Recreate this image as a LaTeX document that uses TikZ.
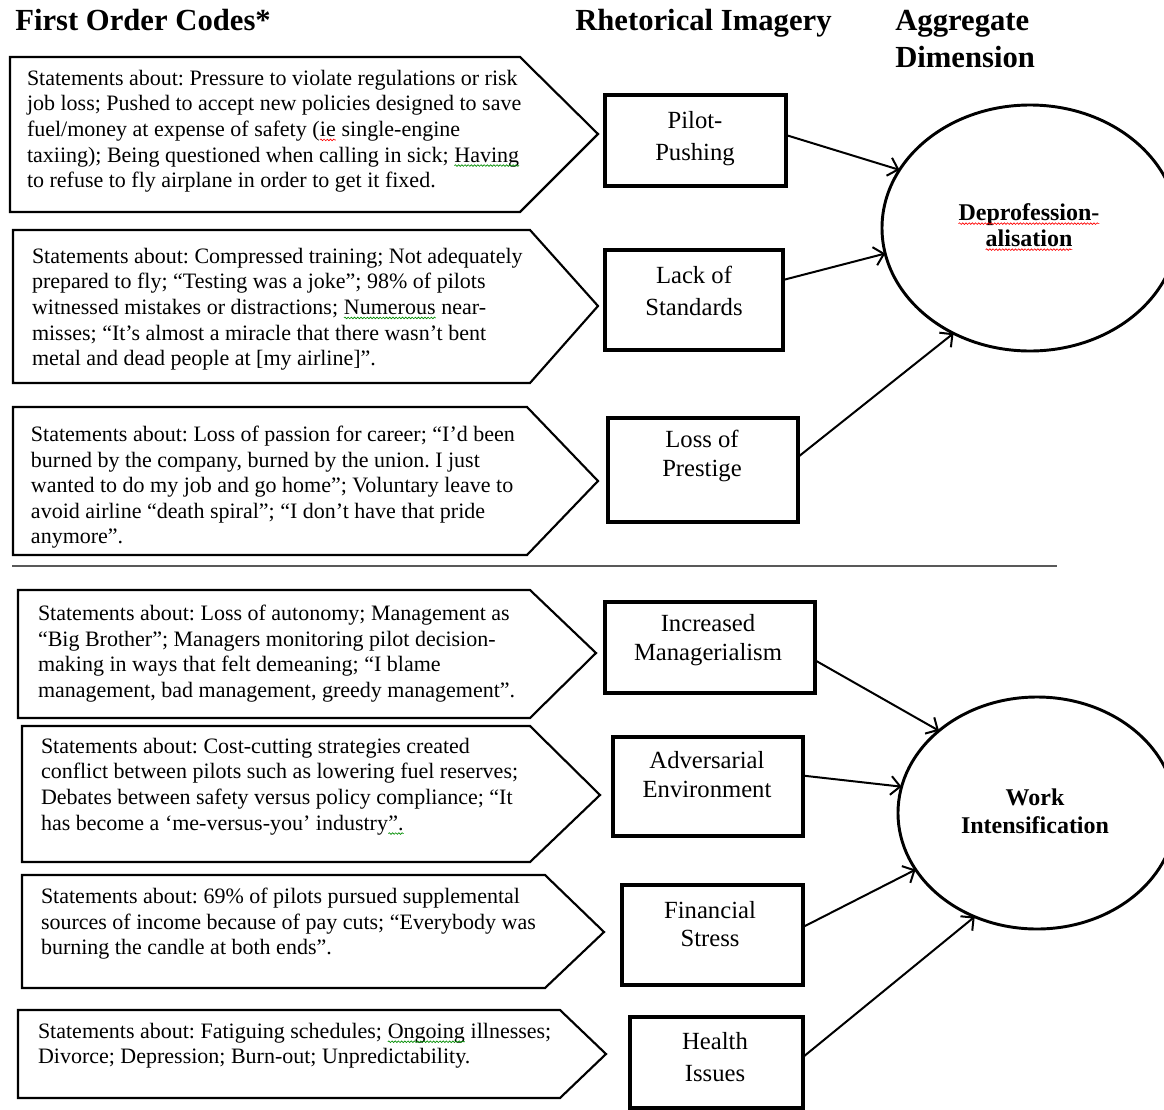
\documentclass[tikz,border=0pt]{standalone}
\usepackage{fontspec}
\setmainfont{Liberation Serif}
\usetikzlibrary{arrows.meta,shapes.geometric,calc,decorations.pathmorphing}
\frenchspacing
\newcommand\wavyul[2]{\tikz[baseline=(w.base)]{\node[shape=rectangle, draw=none, inner sep=0pt, outer sep=0pt, minimum width=0pt, minimum height=0pt, anchor=center] (w) {#2};
  \draw[#1, line width=0.5pt, decorate, decoration={snake,amplitude=0.6pt,segment length=2.4pt}] ([yshift=-2.6pt]w.base west) -- ([yshift=-2.6pt]w.base east);}}
\newcommand\redsq[1]{\wavyul{red}{#1}}
\newcommand\grnsq[1]{\wavyul{green!55!black}{#1}}
\begin{document}
\begin{tikzpicture}[x=0.75pt,y=-0.75pt,
  pent/.style={draw=black, line width=1.6pt, line join=miter},
  stmt/.style={anchor=north west, inner sep=0pt, outer sep=0pt, align=left, font=\fontsize{16.5}{19.2}\selectfont},
  rbox/.style={draw, line width=2.5pt, inner sep=0pt, outer sep=0pt},
  rlab/.style={inner sep=0pt, align=center, font=\fontsize{18.5}{#1}\selectfont},
  rlab/.default=22pt,
  agg/.style={draw, ellipse, line width=2.2pt, inner sep=0pt, outer sep=0pt},
  agglab/.style={inner sep=0pt, align=center, font=\fontsize{18}{#1}\selectfont\bfseries},
  head/.style={anchor=base west, inner sep=0pt, font=\fontsize{23}{27.75}\selectfont\bfseries},
  conn/.style={line width=1.5pt, -{Straight Barb[length=7pt,width=14pt,line width=1.5pt]}},
  sep/.style={draw=black!65, line width=1.2pt}
]
\useasboundingbox (0,0) rectangle (1164,1110);
\clip (0,0) rectangle (1164,1110);

% headers
\node[head] (h1) at (15,30) {First Order Codes*};
\node[head] (h2) at (575,30) {Rhetorical Imagery};
\node[head] (h3) at (895,30) {Aggregate};
\node[head] (h4) at (895,67) {Dimension};

% first order code arrows
\draw[pent] (10,57) -- (520,57) -- (598,134) -- (520,212) -- (10,212) -- cycle;
\draw[pent] (13,230) -- (530,230) -- (598,306) -- (530,383) -- (13,383) -- cycle;
\draw[pent] (13,407) -- (527,407) -- (598,481) -- (527,555) -- (13,555) -- cycle;
\draw[pent] (18,590) -- (530,590) -- (596,653) -- (530,718) -- (18,718) -- cycle;
\draw[pent] (22,726) -- (530,726) -- (600,795) -- (530,862) -- (22,862) -- cycle;
\draw[pent] (22,875) -- (545,875) -- (604,932) -- (545,988) -- (22,988) -- cycle;
\draw[pent] (18,1010) -- (560,1010) -- (606,1054) -- (560,1098) -- (18,1098) -- cycle;

\node[stmt] (s1) at (27,70) {Statements about: Pressure to violate regulations or risk\\
job loss; Pushed to accept new policies designed to save\\
fuel/money at expense of safety (\redsq{ie} single-engine\\
taxiing); Being questioned when calling in sick; \grnsq{Having}\\
to refuse to fly airplane in order to get it fixed.};

\node[stmt] (s2) at (32,248) {Statements about: Compressed training; Not adequately\\
prepared to fly; “Testing was a joke”; 98\% of pilots\\
witnessed mistakes or distractions; \grnsq{Numerous} near-\\
misses; “It’s almost a miracle that there wasn’t bent\\
metal and dead people at [my airline]”.};

\node[stmt] (s3) at (31,426) {Statements about: Loss of passion for career; “I’d been\\
burned by the company, burned by the union. I just\\
wanted to do my job and go home”; Voluntary leave to\\
avoid airline “death spiral”; “I don’t have that pride\\
anymore”.};

\node[stmt] (s4) at (38,605) {Statements about: Loss of autonomy; Management as\\
“Big Brother”; Managers monitoring pilot decision-\\
making in ways that felt demeaning; “I blame\\
management, bad management, greedy management”.};

\node[stmt] (s5) at (41,738) {Statements about: Cost-cutting strategies created\\
conflict between pilots such as lowering fuel reserves;\\
Debates between safety versus policy compliance; “It\\
has become a ‘me-versus-you’ industry\grnsq{”.}};

\node[stmt] (s6) at (41,888) {Statements about: 69\% of pilots pursued supplemental\\
sources of income because of pay cuts; “Everybody was\\
burning the candle at both ends”.};

\node[stmt] (s7) at (38,1023) {Statements about: Fatiguing schedules; \grnsq{Ongoing} illnesses;\\
Divorce; Depression; Burn-out; Unpredictability.};

% rhetorical imagery boxes
\node[rbox, minimum width=135.75pt, minimum height=68.25pt] (r1) at (695.5,140.5) {};
\node[rbox, minimum width=133.5pt, minimum height=75pt] (r2) at (694,300) {};
\node[rbox, minimum width=142.5pt, minimum height=78pt] (r3) at (703,470) {};
\node[rbox, minimum width=157.5pt, minimum height=68.25pt] (r4) at (710,647.5) {};
\node[rbox, minimum width=142.5pt, minimum height=74.25pt] (r5) at (708,786.5) {};
\node[rbox, minimum width=135.75pt, minimum height=75pt] (r6) at (712.5,935) {};
\node[rbox, minimum width=129.75pt, minimum height=68.25pt] (r7) at (716.5,1062.5) {};

\node[rlab=24pt] (l1) at (695,139) {Pilot-\\Pushing};
\node[rlab=24pt] (l2) at (694,291) {Lack of\\Standards};
\node[rlab=21.75pt] (l3) at (702,456) {Loss of\\Prestige};
\node[rlab=21.75pt] (l4) at (708,640.5) {Increased\\Managerialism};
\node[rlab=21.75pt] (l5) at (707,775) {Adversarial\\Environment};
\node[rlab=21pt] (l6) at (710,924) {Financial\\Stress};
\node[rlab=24pt] (l7) at (715,1057) {Health\\Issues};

% aggregate dimensions
\node[agg, minimum width=222pt, minimum height=184.5pt] (c1) at (1030,228) {};
\node[agg, minimum width=208.5pt, minimum height=174pt] (c2) at (1037,813) {};
\node[agglab=19.5pt] (a1) at (1029,227) {\redsq{Deprofession-}\\\redsq{alisation}};
\node[agglab=21pt] (a2) at (1035,811) {Work\\Intensification};

% separator
\draw[sep] (12,566) -- (1057,566);

% connectors
\draw[conn] ($(r1.north east)!0.44!(r1.south east)$) -- (c1.156);
\draw[conn] ($(r2.north east)!0.30!(r2.south east)$) -- (c1.190.7);
\draw[conn] ($(r3.north east)!0.375!(r3.south east)$) -- (c1.234);
\draw[conn] ($(r4.north east)!0.64!(r4.south east)$) -- (c2.140);
\draw[conn] ($(r5.north east)!0.39!(r5.south east)$) -- (c2.169.4);
\draw[conn] ($(r6.north east)!0.42!(r6.south east)$) -- (c2.205);
\draw[conn] ($(r7.north east)!0.44!(r7.south east)$) -- (c2.239);
\end{tikzpicture}
\end{document}
